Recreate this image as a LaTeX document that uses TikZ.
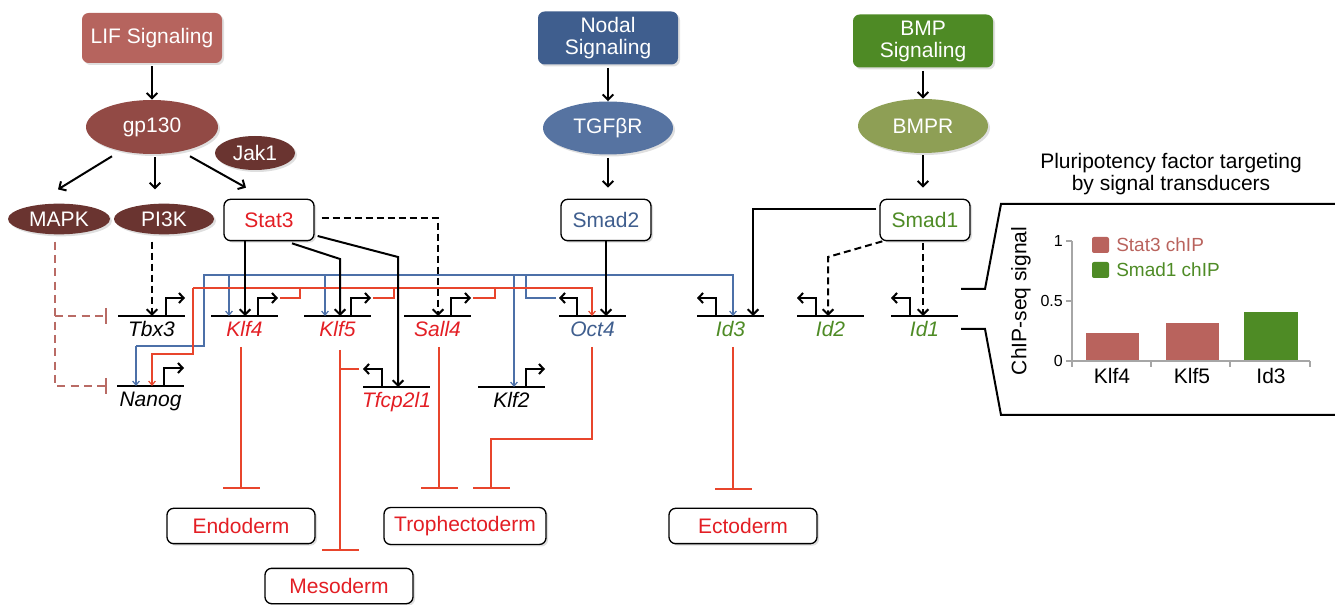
\documentclass[tikz,border=0pt]{standalone}
\usepackage{fontspec}
\setmainfont{Liberation Sans}
\usetikzlibrary{arrows.meta,shapes.geometric,shadows,calc}
\definecolor{lifc}{HTML}{B6645E}
\definecolor{gpc}{HTML}{924A45}
\definecolor{darkbr}{HTML}{6A3430}
\definecolor{nodalc}{HTML}{3F5E8E}
\definecolor{tgfc}{HTML}{5673A1}
\definecolor{bmpc}{HTML}{4E8A25}
\definecolor{bmprc}{HTML}{8E9F55}
\definecolor{myred}{HTML}{E31E24}
\definecolor{linered}{HTML}{E8452C}
\definecolor{lineblue}{HTML}{4C70A8}
\definecolor{myblue}{HTML}{3F5E8E}
\definecolor{mygreen}{HTML}{4E8B25}
\definecolor{barstat}{HTML}{B9635D}
\definecolor{mapkc}{HTML}{B96B65}
\definecolor{axisc}{HTML}{A6A6A6}
\newcommand{\mysize}{\fontsize{15.75}{16.5}\selectfont}
\newcommand{\gene}[7]{%
  \coordinate (#1) at (#2,#3);
  \draw[genel] (#1) -- ++(67,0);
  \draw[prom] (#1) ++(#4,0) -- ++(0,-18) -- ++(#5,0);
  \node[glab, text=#7] (#1-lab) at ($(#1)+(33.5,20.5)$) {#6};
}
\begin{document}
\begin{tikzpicture}[x=0.75pt,y=-0.75pt,
  shad/.style={drop shadow={shadow xshift=1.5pt,shadow yshift=-1.5pt,opacity=0.25}},
  sigbox/.style={rectangle, rounded corners=5pt, minimum width=105pt, minimum height=39.75pt, text=white, align=center, font=\mysize, inner sep=0pt, shad},
  ell/.style={ellipse, text=white, font=\mysize, inner sep=0pt, shad},
  tf/.style={rectangle, rounded corners=5pt, draw=black, line width=1pt, fill=white, minimum width=67.5pt, minimum height=31pt, font=\mysize, inner sep=0pt, shad},
  lineage/.style={tf, text=myred, minimum width=111pt, minimum height=26.5pt},
  glab/.style={font=\mysize\itshape, anchor=base, inner sep=0pt},
  arr/.style={line width=1.5pt, -{Straight Barb[length=4pt,width=8pt]}},
  darr/.style={arr, dash pattern=on 5.25pt off 3pt},
  genel/.style={line width=1.6pt},
  prom/.style={line width=1.5pt, -{Straight Barb[length=3.5pt,width=7.5pt]}},
  bl/.style={line width=0.9pt, color=lineblue, -{Straight Barb[length=3pt,width=5pt]}},
  bline/.style={line width=0.9pt, color=lineblue},
  rla/.style={line width=0.9pt, color=linered, -{Straight Barb[length=3pt,width=5pt]}},
  rline/.style={line width=0.9pt, color=linered},
  inh/.style={line width=1.1pt, color=linered, -{Bar[width=27.75pt,line width=1.6pt]}},
  minh/.style={line width=1.5pt, color=mapkc, dash pattern=on 6pt off 4pt, -{Bar[width=12pt,line width=1.5pt]}},
  axisl/.style={line width=1.2pt, color=axisc},
  ticklab/.style={font=\fontsize{12}{14}\selectfont, inner sep=0pt}
]
\useasboundingbox (0,0) rectangle (1335,605);

% signalling sources
\node[sigbox, fill=lifc, minimum height=37.5pt] (lif) at (152,38) {LIF Signaling};
\node[sigbox, fill=nodalc] (nodal) at (608,38) {Nodal\\Signaling};
\node[sigbox, fill=bmpc] (bmp) at (923,41) {BMP\\Signaling};

% receptors and kinases
\node[ell, fill=gpc, minimum width=99pt, minimum height=40.5pt] (gp130) at (152,127) {gp130};
\node[ell, fill=darkbr, minimum width=60pt, minimum height=25.5pt] (jak1) at (255,153) {Jak1};
\node[ell, fill=darkbr, minimum width=76.5pt, minimum height=23pt] (mapk) at (59,219) {MAPK};
\node[ell, fill=darkbr, minimum width=75pt, minimum height=23pt] (pi3k) at (164,219) {PI3K};
\node[ell, fill=tgfc, minimum width=97.5pt, minimum height=39.75pt] (tgfbr) at (608,128) {TGFβR};
\node[ell, fill=bmprc, minimum width=97.5pt, minimum height=40.5pt] (bmpr) at (923,126) {BMPR};

% transducers
\node[tf, text=myred] (stat3) at (269,220) {Stat3};
\node[tf, text=myblue] (smad2) at (606,220) {Smad2};
\node[tf, text=mygreen] (smad1) at (925,220) {Smad1};

% lineages
\node[lineage] (endo) at (241,526) {Endoderm};
\node[lineage, minimum width=121.5pt, minimum height=27.75pt] (troph) at (465,526) {Trophectoderm};
\node[lineage] (meso) at (339,586) {Mesoderm};
\node[lineage] (ecto) at (743,526) {Ectoderm};

% genes
\gene{tbx3}{118}{316}{48}{19}{Tbx3}{black}
\gene{klf4}{211}{316}{47}{20}{Klf4}{myred}
\gene{klf5}{304}{316}{47}{20}{Klf5}{myred}
\gene{sall4}{404}{316}{47}{20}{Sall4}{myred}
\gene{oct4}{559}{316}{18}{-18}{Oct4}{myblue}
\gene{id3}{697}{316}{19}{-19}{Id3}{mygreen}
\gene{id2}{797}{316}{19}{-19}{Id2}{mygreen}
\gene{id1}{891}{316}{19}{-19}{Id1}{mygreen}
\gene{nanog}{117}{386}{47}{20}{Nanog}{black}
\gene{tfcp}{363}{387}{19}{-19}{Tfcp2l1}{myred}
\gene{klf2}{478}{387}{48}{19}{Klf2}{black}

% top signalling arrows
\draw[arr] ($(lif.south)+(0,3)$) -- (gp130.north);
\draw[arr] ($(gp130.south)+(-40,2)$) -- ($(mapk.north)+(-1,-14)$);
\draw[arr] ($(gp130.south)+(3,3)$) -- ($(pi3k.north)+(-9,-14)$);
\draw[arr] ($(gp130.south)+(38,2)$) -- ($(stat3.north)+(-23,-11)$);
\draw[arr] ($(nodal.south)+(0,3)$) -- (tgfbr.north);
\draw[arr] ($(tgfbr.south)+(0,3)$) -- ($(smad2.north)+(2,-11)$);
\draw[arr] ($(bmp.south)+(0,3)$) -- (bmpr.north);
\draw[arr] ($(bmpr.south)+(0,2)$) -- ($(smad1.north)+(-2,-11)$);

% blue (Oct4) network
\draw[bline] ($(oct4)+(-3,-18)$) -- (526,298) -- (526,275) -- (204,275) -- (204,346) -- (136,346);
\draw[bl] (136,346) -- ($(nanog)+(19,0)$);
\draw[bl] (526,275) -- (733,275) -- ($(id3)+(36,0)$);
\draw[bl] (229,275) -- ($(klf4)+(18,0)$);
\draw[bl] (325,275) -- ($(klf5)+(21,0)$);
\draw[bl] (514,275) -- ($(klf2)+(36,0)$);

% red network
\draw[rline] ($(klf4)+(69,-18)$) -- (300,298) -- (300,288);
\draw[rline] ($(klf5)+(69,-18)$) -- (394,298) -- (394,288);
\draw[rline] ($(sall4)+(69,-18)$) -- (495,298) -- (495,288);
\draw[rla] (193,288) -- (592,288) -- ($(oct4)+(33,0)$);
\draw[rla] (193,288) -- (193,354) -- (152,354) -- ($(nanog)+(35,0)$);

% black transducer arrows
\draw[arr] ($(stat3.south)+(-24,0)$) -- ($(klf4)+(34,0)$);
\draw[arr] ($(stat3.south)+(23,2)$) -- (340,259) -- ($(klf5)+(36,0)$);
\draw[arr] ($(stat3.east)+(3,16)$) -- (398,257) -- ($(tfcp)+(35,0)$);
\draw[darr] ($(stat3.east)+(7,-2)$) -- (438,218) -- ($(sall4)+(34,0)$);
\draw[darr] ($(pi3k.south)+(-12,7)$) -- ($(tbx3)+(34,0)$);
\draw[arr] (smad2.south) -- ($(oct4)+(47,0)$);
\draw[arr] ($(smad1.west)+(-3,-11)$) -- (753,209) -- ($(id3)+(56,0)$);
\draw[darr] ($(smad1.south west)+(3,0)$) -- (828,257) -- ($(id2)+(31,0)$);
\draw[darr] ($(smad1.south)+(-2,2)$) -- ($(id1)+(32,0)$);

% MAPK inhibition
\draw[minh] ($(mapk.south)+(-4,7)$) -- (55,386) -- ($(nanog)+(-10,0)$);
\draw[minh] (55,316) -- ($(tbx3)+(-11,0)$);

% lineage inhibition
\draw[inh] ($(klf4)+(30,31)$) -- ($(endo.north)+(0,-19)$);
\draw[inh] ($(klf5)+(36,34)$) -- ($(meso.north)+(1,-17)$);
\draw[rline] ($(tfcp)+(-4,-18)$) -- (340,369);
\draw[inh] ($(sall4)+(35,31)$) -- ($(troph.north)+(-26,-18)$);
\draw[inh] ($(oct4)+(33,31)$) -- (592,439) -- (491,439) -- ($(troph.north)+(26,-18)$);
\draw[inh] ($(id3)+(36,31)$) -- ($(ecto.north)+(-10,-18)$);

% chart panel
\node[font=\mysize, align=center, inner sep=0pt] (title) at (1171,174) {Pluripotency factor targeting\\by signal transducers};
\coordinate (brtop) at (1335,204);
\coordinate (brbot) at (1335,415);
\draw[line width=1.5pt] (961,289) -- (985,289) -- (1001,204) -- (brtop);
\draw[line width=1.5pt] (961,329) -- (985,329) -- (1001,415) -- (brbot);

\fill[barstat] (1086,333) rectangle (1139,361);
\fill[barstat] (1166,323) rectangle (1219,361);
\fill[mygreen] (1244,312) rectangle (1298,361);
\draw[axisl] (1072,241) -- (1072,361) -- (1310,361);
\foreach \y in {241,301,361} \draw[axisl] (1066,\y) -- (1072,\y);
\foreach \x in {1072,1151,1230,1310} \draw[axisl] (\x,361) -- (\x,367);
\node[ticklab, anchor=east] (t1) at (1063,241) {1};
\node[ticklab, anchor=east] (t05) at (1063,301) {0.5};
\node[ticklab, anchor=east] (t0) at (1063,361) {0};
\node[font=\mysize, inner sep=0pt] (xk4) at (1112,376) {Klf4};
\node[font=\mysize, inner sep=0pt] (xk5) at (1192,376) {Klf5};
\node[font=\mysize, inner sep=0pt] (xid3) at (1271,376) {Id3};
\node[font=\mysize, rotate=90, inner sep=0pt] (ylab) at (1021,301) {ChIP-seq signal};
\fill[barstat, rounded corners=1.5pt] (1092,237) rectangle (1109,253);
\fill[mygreen, rounded corners=1.5pt] (1092,262) rectangle (1109,278);
\node[font=\fontsize{14.25}{16}\selectfont, text=barstat, anchor=west, inner sep=0pt] (lg1) at (1116,245) {Stat3 chIP};
\node[font=\fontsize{14.25}{16}\selectfont, text=mygreen, anchor=west, inner sep=0pt] (lg2) at (1116,270) {Smad1 chIP};
\end{tikzpicture}
\end{document}
